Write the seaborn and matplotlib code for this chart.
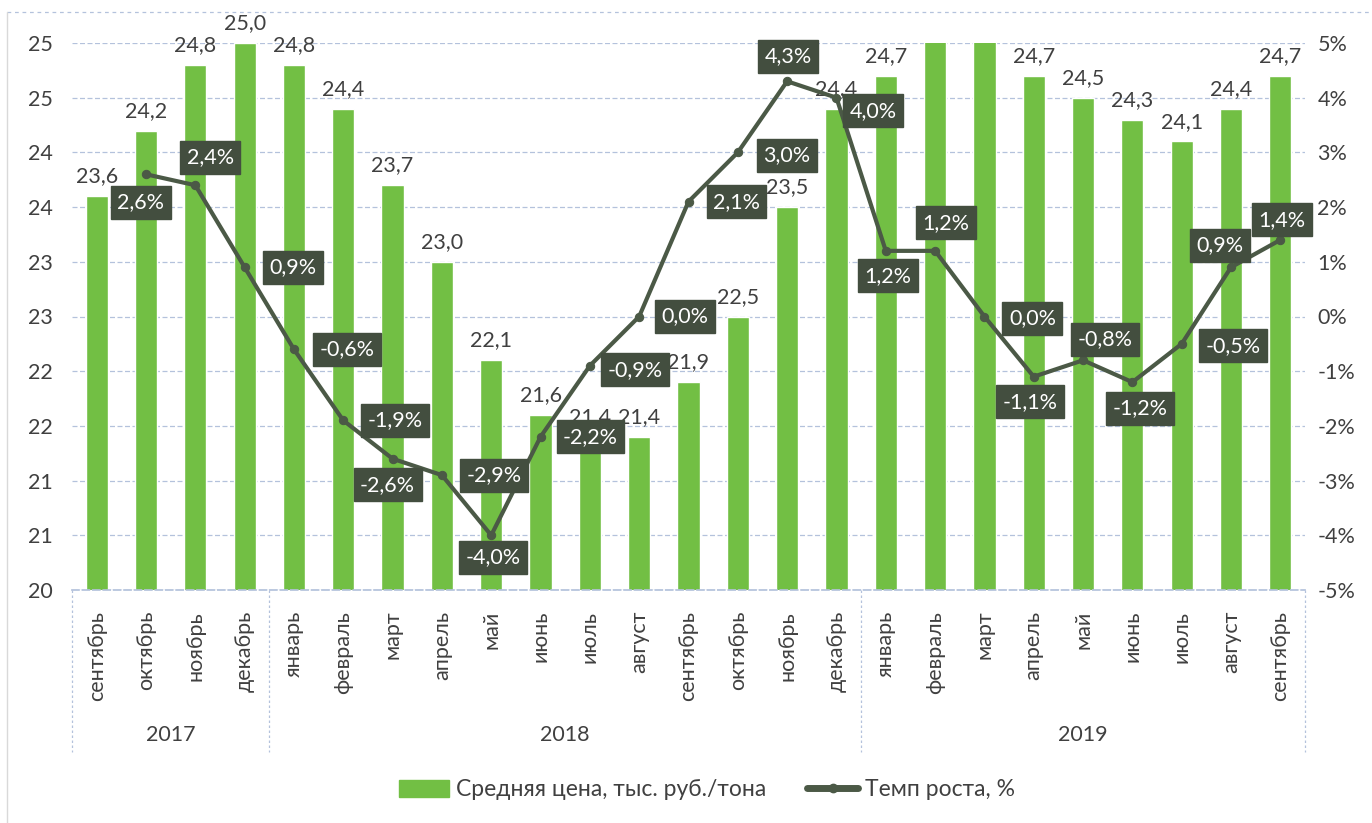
import numpy as np
import pandas as pd
import seaborn as sns
import matplotlib.pyplot as plt
from matplotlib.lines import Line2D
from matplotlib.patches import Patch

# data
months = ["сентябрь", "октябрь", "ноябрь", "декабрь",
          "январь", "февраль", "март", "апрель", "май", "июнь", "июль", "август",
          "сентябрь", "октябрь", "ноябрь", "декабрь",
          "январь", "февраль", "март", "апрель", "май", "июнь", "июль", "август", "сентябрь"]
years = ["2017"] * 4 + ["2018"] * 12 + ["2019"] * 9
price = [23.6, 24.2, 24.8, 25.0,
         24.8, 24.4, 23.7, 23.0, 22.1, 21.6, 21.4, 21.4, 21.9, 22.5, 23.5, 24.4,
         24.7, 25.2, 25.2, 24.7, 24.5, 24.3, 24.1, 24.4, 24.7]
price_shown = [True] * 17 + [False, False] + [True] * 6
growth = [np.nan, 2.6, 2.4, 0.9,
          -0.6, -1.9, -2.6, -2.9, -4.0, -2.2, -0.9, 0.0, 2.1, 3.0, 4.3, 4.0,
          1.2, 1.2, 0.0, -1.1, -0.8, -1.2, -0.5, 0.9, 1.4]
bar_name = "Средняя цена, тыс. руб./тона"
line_name = "Темп роста, %"

df = pd.DataFrame({"period": [f"{y}-{i:02d}" for i, y in enumerate(years)],
                   "month": months, "year": years,
                   "price": price, "growth": growth})
df["pos"] = np.arange(len(df))

sns.set_theme(style="white")
plt.rcParams["font.family"] = ["Lato", "DejaVu Sans"]

BAR = "#72bf44"
LINE = "#4b5946"
BOX = "#434e3f"
TXT = "#404040"
GRID = "#b4c2dc"
FS = 15.5

fig = plt.figure(figsize=(13.72, 8.23), dpi=100)
ax = fig.add_axes([72 / 1372, 1 - 590 / 823, (1305 - 72) / 1372, 547 / 823])

sns.barplot(data=df, x="period", y="price", color=BAR, saturation=1,
            width=0.45, ax=ax, zorder=2)
ax.set_ylim(20, 25)
ax.set_xlim(-0.5, len(df) - 0.5)
yt = np.arange(20, 25.01, 0.5)
ax.set_yticks(yt)
ax.set_yticklabels([str(int(np.floor(v + 0.5))) for v in yt], fontsize=FS, color=TXT)
ax.tick_params(axis="y", length=0, pad=14)
ax.set_xticks(df["pos"])
ax.set_xticklabels(df["month"], rotation=90, fontsize=FS, color=TXT, va="top")
ax.tick_params(axis="x", length=0, pad=15)
ax.set_xlabel("")
ax.set_ylabel("")
for yv in yt:
    ax.axhline(yv, color=GRID, lw=0.9, ls=(0, (4, 2)), zorder=0)
for s in ["top", "left", "right"]:
    ax.spines[s].set_visible(False)
ax.spines["bottom"].set_color(GRID)
ax.spines["bottom"].set_linestyle((0, (4, 2)))

labels = [f"{v:.1f}".replace(".", ",") if show else "" for v, show in zip(price, price_shown)]
ax.bar_label(ax.containers[0], labels=labels, padding=7, fontsize=FS, color=TXT)

# year groups under the month labels
bounds = [-0.5]
for i in range(1, len(df)):
    if years[i] != years[i - 1]:
        bounds.append(i - 0.5)
bounds.append(len(df) - 0.5)
for b in bounds:
    ax.plot([b, b], [0, -0.296], transform=ax.get_xaxis_transform(), color=GRID,
            lw=0.9, ls=(0, (2, 2)), clip_on=False)
for y0, y1, name in zip(bounds[:-1], bounds[1:], pd.unique(df["year"])):
    ax.text((y0 + y1) / 2, -0.265, name, transform=ax.get_xaxis_transform(),
            ha="center", va="center", fontsize=FS, color=TXT)

# growth line on the right axis
ax2 = ax.twinx()
sns.lineplot(data=df, x="pos", y="growth", color=LINE, lw=3, marker="o",
             markersize=6, markeredgecolor=LINE, ax=ax2, zorder=3)
ax2.set_ylim(-5, 5)
ax2.set_yticks(np.arange(-5, 6, 1))
ax2.set_yticklabels([f"{v}%" for v in range(-5, 6)], fontsize=FS, color=TXT)
ax2.tick_params(axis="y", length=0, pad=9)
ax2.set_ylabel("")
ax2.set_xlabel("")
for s in ax2.spines.values():
    s.set_visible(False)

# label placement offsets in pixels (dx right, dy down), as in the reference
offs = [None, (-5, 28), (15, -28), (48, 0), (53, 0), (52, 0), (-5, 26), (52, 0),
        (2, 22), (50, 0), (45, 4), (46, 0), (48, 0), (49, 3), (1, -25), (37, 13),
        (2, 25), (11, -28), (48, 2), (-4, 25), (22, -21), (8, 26), (51, 2),
        (-11, -22), (2, -20)]
for i, g in enumerate(growth):
    if np.isnan(g):
        continue
    dx, dy = offs[i]
    ax2.annotate(f"{g:.1f}%".replace(".", ","), (i, g),
                 xytext=(dx * 0.72, -dy * 0.72), textcoords="offset points",
                 ha="center", va="center", fontsize=FS, color="white", zorder=5,
                 bbox=dict(boxstyle="square,pad=0.3", fc=BOX, ec=BOX))
if ax2.get_legend():
    ax2.get_legend().remove()

handles = [Patch(color=BAR, label=bar_name),
           Line2D([0], [0], color=LINE, lw=5, marker="o", markersize=6, label=line_name)]
fig.legend(handles=handles, loc="center", bbox_to_anchor=(0.515, 1 - 790 / 823), ncol=2,
           frameon=False, fontsize=16.5, labelcolor=TXT, columnspacing=1.8,
           handlelength=2.2, handleheight=0.7, handletextpad=0.3)

# outer chart border
fig.add_artist(Line2D([7 / 1372, 1], [1 - 12 / 823] * 2, color=GRID, lw=0.9, ls=(0, (3, 3))))
fig.add_artist(Line2D([7 / 1372] * 2, [0, 1 - 12 / 823], color="#d9d9d9", lw=1))

fig.savefig("out.png", dpi=100)
